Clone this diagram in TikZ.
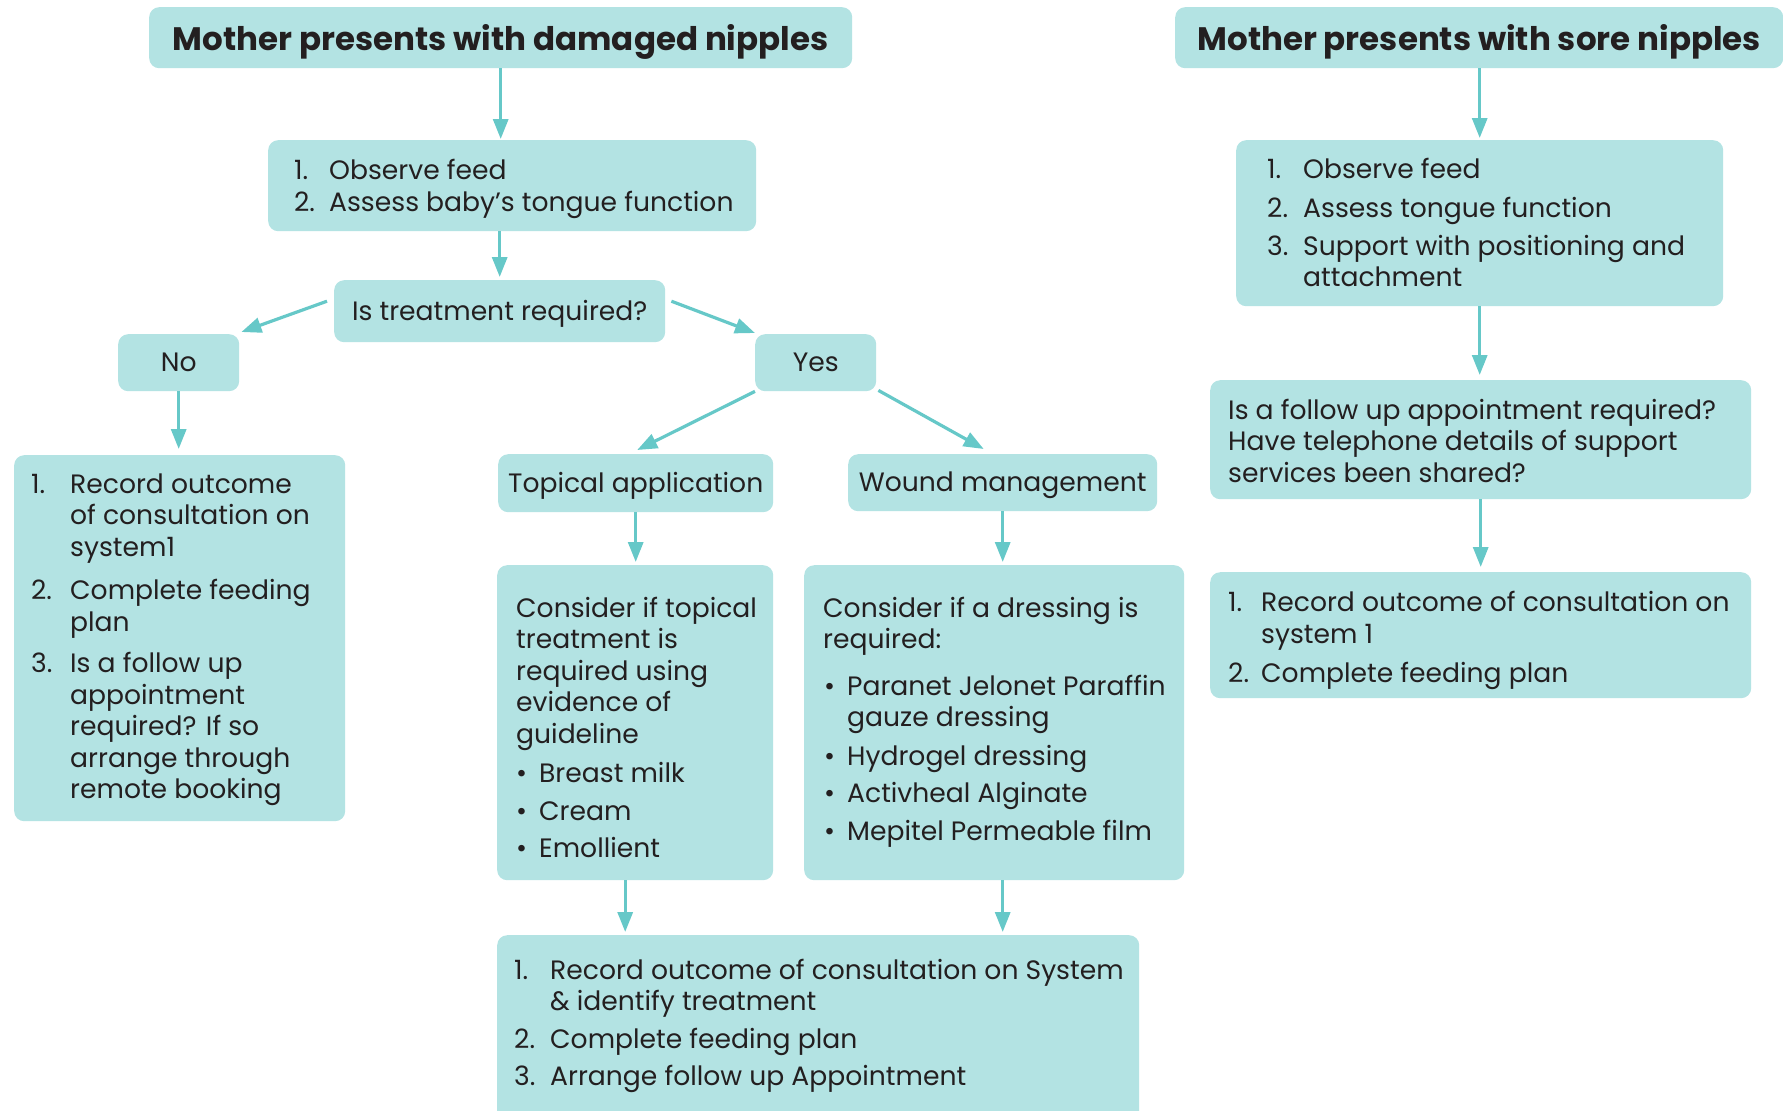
\documentclass[tikz,border=0pt]{standalone}
\usepackage{fontspec}
\setmainfont{Poppins}
\usetikzlibrary{arrows.meta}
\definecolor{boxfill}{HTML}{B3E3E3}
\definecolor{arrowc}{HTML}{66C8C8}
\definecolor{txt}{HTML}{231F20}
\newcommand\bodyfont{\fontsize{26.6}{31.5}\selectfont}
\newcommand\titlefont{\fontsize{32.5}{38}\selectfont\bfseries}
\setlength\tabcolsep{0pt}
\tikzset{
  box/.style={fill=boxfill, rounded corners=10pt, inner sep=0pt, anchor=north west, text=txt, font=\bodyfont},
  onebox/.style={box, text height=18pt, text depth=0pt},
  titlebox/.style={box, font=\titlefont, text height=25pt, text depth=0pt},
  txtnode/.style={inner sep=0pt, anchor=base west, text=txt, font=\bodyfont},
  arr/.style={draw=arrowc, line width=3.2pt, -{Triangle[length=20pt,width=15pt]}, shorten >=3pt}
}
\begin{document}
\begin{tikzpicture}[x=1pt,y=-1pt]
\useasboundingbox (0,0) rectangle (1783,1111);
% boxes
\node[titlebox, minimum width=703pt, minimum height=61pt] (t1) at (149,7) {Mother presents with damaged nipples};
\node[titlebox, minimum width=608pt, minimum height=61pt] (t2) at (1175,7) {Mother presents with sore nipples};
\node[box, minimum width=488pt, minimum height=91pt] (obs1) at (268,140) {};
\node[onebox, minimum width=331pt, minimum height=62pt] (treat) at (334,280) {Is treatment required?};
\node[onebox, minimum width=121pt, minimum height=57pt] (no) at (118,334) {No};
\node[onebox, minimum width=121pt, minimum height=57pt] (yes) at (755,334) {Yes};
\node[box, minimum width=331pt, minimum height=366pt] (nobox) at (14,455) {};
\node[onebox, minimum width=275pt, minimum height=58pt] (topical) at (498,454) {Topical application};
\node[onebox, minimum width=309pt, minimum height=57pt] (wound) at (848,454) {Wound management};
\node[box, minimum width=276pt, minimum height=315pt] (topbox) at (497,565) {};
\node[box, minimum width=380pt, minimum height=315pt] (woundbox) at (804,565) {};
\node[box, minimum width=642pt, minimum height=190pt] (final) at (497,935) {};
\node[box, minimum width=487pt, minimum height=166pt] (obs2) at (1236,140) {};
\node[box, minimum width=541pt, minimum height=119pt] (followq) at (1210,380) {};
\node[box, minimum width=541pt, minimum height=126pt] (rec2) at (1210,572) {};
% texts
\node[txtnode] (obs1t) at (294,179.5) {\begin{tabular}[t]{@{}p{35pt}@{}l@{}}1.&Observe feed\\2.&Assess baby’s tongue function\end{tabular}};
\node[txtnode] (noboxt) at (31,493) {\begin{tabular}[t]{@{}p{39pt}@{}l@{}}
1.&Record outcome\\
&of consultation on\\
&system1\\[12pt]
2.&Complete feeding\\
&plan\\[10pt]
3.&Is a follow up\\
&appointment\\
&required? If so\\
&arrange through\\
&remote booking\end{tabular}};
\node[txtnode] (topboxt) at (516,617) {\begin{tabular}[t]{@{}p{23pt}@{}l@{}}
\multicolumn{2}{@{}l@{}}{Consider if topical}\\
\multicolumn{2}{@{}l@{}}{treatment is}\\
\multicolumn{2}{@{}l@{}}{required using}\\
\multicolumn{2}{@{}l@{}}{evidence of}\\
\multicolumn{2}{@{}l@{}}{guideline}\\[8pt]
\textbullet&Breast milk\\[6pt]
\textbullet&Cream\\[6pt]
\textbullet&Emollient\end{tabular}};
\node[txtnode] (woundboxt) at (823,617) {\begin{tabular}[t]{@{}p{24pt}@{}l@{}}
\multicolumn{2}{@{}l@{}}{Consider if a dressing is}\\
\multicolumn{2}{@{}l@{}}{required:}\\[15pt]
\hspace*{1pt}\textbullet&Paranet Jelonet Paraffin\\
&gauze dressing\\[7pt]
\hspace*{1pt}\textbullet&Hydrogel dressing\\[6pt]
\hspace*{1pt}\textbullet&Activheal Alginate\\[6.5pt]
\hspace*{1pt}\textbullet&Mepitel Permeable film\end{tabular}};
\node[txtnode] (finalt) at (514,979) {\begin{tabular}[t]{@{}p{36pt}@{}l@{}}
1.&Record outcome of consultation on System\\
&\& identify treatment\\[6pt]
2.&Complete feeding plan\\[6pt]
3.&Arrange follow up Appointment\end{tabular}};
\node[txtnode] (obs2t) at (1267,178.5) {\begin{tabular}[t]{@{}p{36pt}@{}l@{}}
1.&Observe feed\\[7pt]
2.&Assess tongue function\\[6.5pt]
3.&Support with positioning and\\
&attachment\end{tabular}};
\node[txtnode] (followqt) at (1228,419) {\begin{tabular}[t]{@{}l@{}}
Is a follow up appointment required?\\
Have telephone details of support\\
services been shared?\end{tabular}};
\node[txtnode] (rec2t) at (1228,611.5) {\begin{tabular}[t]{@{}p{33pt}@{}l@{}}
1.&Record outcome of consultation on\\
&system 1\\[7.5pt]
2.&Complete feeding plan\end{tabular}};
% connectors
\draw[arr, shorten >=1pt] (t1.south) -- (t1.south |- obs1.north);
\draw[arr] (treat.north |- obs1.south) -- (treat.north);
\draw[arr, shorten >=0pt] ([shift={(-7pt,10pt)}]treat.west) -- ([shift={(2pt,2pt)}]no.north east);
\draw[arr, shorten >=0pt] ([shift={(6pt,10pt)}]treat.east) -- ([shift={(0pt,1pt)}]yes.north west);
\draw[arr, shorten >=6pt] (no.south) -- (no.south |- nobox.north);
\draw[arr, shorten >=0pt] (yes.south west) -- ([shift={(1.5pt,4pt)}]topical.north);
\draw[arr, shorten >=0pt] ([shift={(2pt,1pt)}]yes.south east) -- ([shift={(-19pt,5pt)}]wound.north);
\draw[arr] (topical.south) -- (topical.south |- topbox.north);
\draw[arr] (wound.south) -- (wound.south |- woundbox.north);
\coordinate (tf) at ([xshift=-10pt]topbox.south);
\draw[arr] (tf) -- (tf |- final.north);
\coordinate (wf) at (wound.south |- woundbox.south);
\draw[arr] (wf) -- (wf |- final.north);
\draw[arr, shorten >=2pt] (obs2.north |- t2.south) -- (obs2.north);
\draw[arr, shorten >=5pt] (obs2.south) -- (obs2.south |- followq.north);
\draw[arr, shorten >=5pt] (followq.south) -- (followq.south |- rec2.north);
\end{tikzpicture}
\end{document}
